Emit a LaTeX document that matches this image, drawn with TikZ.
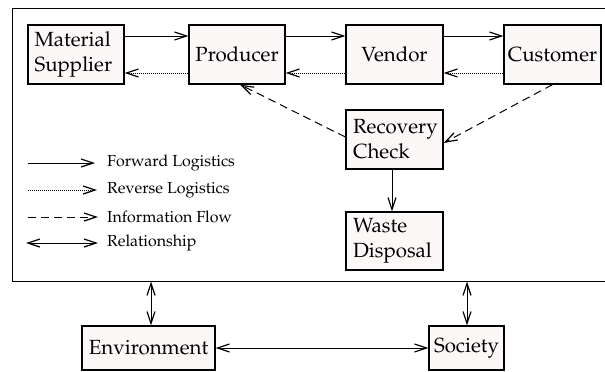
\documentclass[tikz,border=0pt]{standalone}
\usepackage[T1]{fontenc}
\usepackage{mathpazo}
\usetikzlibrary{arrows.meta,calc}
\definecolor{boxfill}{RGB}{253,248,248}
\tikzset{
  x=1pt,y=-1pt,
  barb/.tip={Straight Barb[length=12pt,width=8pt,line width=1.2pt]},
  tip/.style={-barb},
  bitip/.style={barb-barb},
  conn/.style={line width=1pt},
  fwd/.style={conn,tip},
  rev/.style={conn,tip,dash pattern=on 1pt off 1pt},
  info/.style={conn,tip,dash pattern=on 8pt off 5pt},
  rel/.style={conn,bitip},
  box/.style={draw,line width=1.2pt,fill=boxfill,inner sep=0pt,minimum width=97pt,minimum height=59pt,font=\fontsize{20.5}{25}\selectfont},
  boxtwo/.style={box,text width=83pt,align=left},
  legtext/.style={anchor=west,inner sep=0pt,font=\fontsize{16}{18}\selectfont},
}
\begin{document}
\begin{tikzpicture}
\clip (0,0) rectangle (605,372);
\useasboundingbox (0,0) rectangle (605,372);
\node[draw,line width=1pt,minimum width=613pt,minimum height=273pt,inner sep=0pt] (sys) at (318.5,144.5) {};
\node[boxtwo,minimum width=96pt] (ms) at (76,54.5) {Material\\Supplier};
\node[box,minimum width=96pt] (pr) at (237,54.5) {Producer};
\node[box] (ve) at (394.5,54.5) {Vendor};
\node[box] (cu) at (552.5,54.5) {Customer};
\node[boxtwo] (rc) at (394.5,139.5) {Recovery\\Check};
\node[boxtwo,minimum height=58pt] (wd) at (394.5,241) {Waste\\Disposal};
\node[box,minimum width=133pt,minimum height=44pt] (env) at (148.5,348) {Environment};
\node[box,minimum width=75pt,minimum height=44pt] (soc) at (466.5,348) {Society};
% forward logistics
\draw[fwd] ([yshift=18.5pt]ms.east) -- ([yshift=18.5pt]pr.west);
\draw[fwd] ([yshift=18.5pt]pr.east) -- ([yshift=18.5pt]ve.west);
\draw[fwd] ([yshift=18.5pt]ve.east) -- ([yshift=18.5pt]cu.west);
% reverse logistics
\draw[rev] ([yshift=-18.5pt]pr.west) -- ([yshift=-18.5pt]ms.east);
\draw[rev] ([yshift=-18.5pt]ve.west) -- ([yshift=-18.5pt]pr.east);
\draw[rev] ([yshift=-18.5pt]cu.west) -- ([yshift=-18.5pt]ve.east);
% information flow
\draw[info] ([yshift=2.5pt]rc.west) -- ([xshift=3pt]pr.south);
\draw[info] (cu.south) -- ([yshift=-3.5pt]rc.east);
\draw[fwd] ([xshift=-2.5pt]rc.south) -- ([xshift=-2.5pt]wd.north);
% relationships
\draw[rel] ([xshift=2.5pt]env.north |- sys.south) -- ([xshift=2.5pt]env.north);
\draw[rel] ([xshift=0.5pt]soc.north |- sys.south) -- ([xshift=0.5pt]soc.north);
\draw[rel] (env.east) -- (soc.west);
% legend
\coordinate (l1a) at (28,163); \coordinate (l1b) at (95,163);
\coordinate (l2a) at (28,190); \coordinate (l2b) at (97,190);
\coordinate (l3a) at (28,217); \coordinate (l3b) at (98,217);
\coordinate (l4a) at (26,243); \coordinate (l4b) at (98,243);
\draw[fwd] (l1a) -- (l1b);
\draw[rev] (l2a) -- (l2b);
\draw[info] (l3a) -- (l3b);
\draw[rel] (l4a) -- (l4b);
\node[legtext] (t1) at (107,163) {Forward Logistics};
\node[legtext] (t2) at (107,190) {Reverse Logistics};
\node[legtext] (t3) at (107,217) {Information Flow};
\node[legtext] (t4) at (107,243) {Relationship};
\end{tikzpicture}
\end{document}
